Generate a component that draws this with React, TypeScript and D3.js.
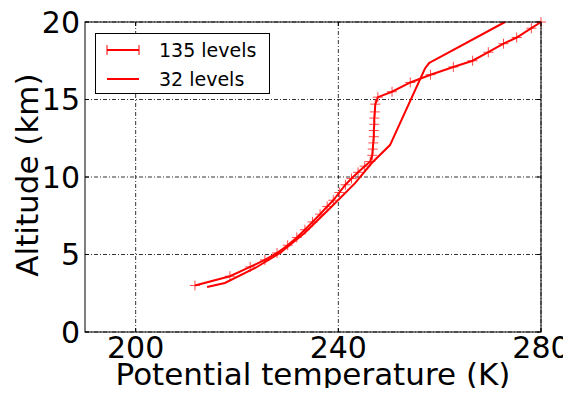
import React, { useEffect, useRef } from 'react';
import * as d3 from 'd3';

// 135 levels profile (with + markers)
const temp135 = [211.7, 218.6, 222.6, 225.5, 227.9, 230.0, 231.8, 233.4, 234.9, 236.4, 237.8, 239.0, 240.2, 241.4,
  242.6, 243.9, 245.2, 246.3, 246.7, 246.8, 246.9, 247.0, 247.0, 247.1, 247.1, 247.2, 247.3, 247.8, 250.6, 254.2,
  258.2, 262.7, 266.5, 269.6, 272.6, 275.2, 278.1, 280.0];
const alt135 = [3.0, 3.6, 4.2, 4.65, 5.1, 5.6, 6.1, 6.6, 7.1, 7.6, 8.1, 8.5, 9.0, 9.5,
  9.9, 10.3, 10.7, 11.0, 11.4, 11.8, 12.2, 12.6, 13.0, 13.4, 13.8, 14.2, 14.7, 15.15, 15.5, 16.1,
  16.6, 17.1, 17.5, 18.05, 18.6, 19.0, 19.6, 20.0];

// 32 levels profile
const temp32 = [214.1, 217.6, 223.6, 228.5, 233.4, 238.4, 243.3, 246.6, 250.2, 257.1, 257.9, 258.7, 272.9];
const alt32 = [2.9, 3.16, 4.13, 5.1, 6.4, 8.0, 9.6, 10.9, 12.06, 17.0, 17.35, 17.5, 20.0];

const xTicks = [200, 240, 280];
const yTicks = [0, 5, 10, 15, 20];
const seriesNames = ['135 levels', '32 levels'];

const W = 571;
const H = 396;
const margin = { left: 85, right: 30, top: 22, bottom: 64 };

export default function App() {
  const ref = useRef<SVGSVGElement>(null);

  useEffect(() => {
    const svg = d3.select(ref.current);
    svg.selectAll('*').remove();
    const font = 'DejaVu Sans, sans-serif';

    const x = d3.scaleLinear().domain([190, 280]).range([margin.left, W - margin.right]);
    const y = d3.scaleLinear().domain([0, 20]).range([H - margin.bottom, margin.top]);

    svg.append('rect').attr('width', W).attr('height', H).attr('fill', '#fff');

    // grid (dash-dot)
    const grid = svg.append('g').attr('stroke', '#000').attr('stroke-width', 0.8)
      .attr('stroke-dasharray', '4,2,1,2');
    grid.selectAll('.gx').data(xTicks).enter().append('line')
      .attr('x1', d => x(d)).attr('x2', d => x(d))
      .attr('y1', y(0)).attr('y2', y(20));
    grid.selectAll('.gy').data(yTicks).enter().append('line')
      .attr('x1', x(190)).attr('x2', x(280))
      .attr('y1', d => y(d)).attr('y2', d => y(d));

    // inside ticks
    const ticks = svg.append('g').attr('stroke', '#000').attr('stroke-width', 1);
    xTicks.forEach(t => {
      ticks.append('line').attr('x1', x(t)).attr('x2', x(t)).attr('y1', y(0)).attr('y2', y(0) - 4);
      ticks.append('line').attr('x1', x(t)).attr('x2', x(t)).attr('y1', y(20)).attr('y2', y(20) + 4);
    });
    yTicks.forEach(t => {
      ticks.append('line').attr('x1', x(190)).attr('x2', x(190) + 4).attr('y1', y(t)).attr('y2', y(t));
      ticks.append('line').attr('x1', x(280)).attr('x2', x(280) - 4).attr('y1', y(t)).attr('y2', y(t));
    });

    const line = d3.line<[number, number]>().x(d => x(d[0])).y(d => y(d[1]));
    const d135 = temp135.map((t, i) => [t, alt135[i]] as [number, number]);
    const d32 = temp32.map((t, i) => [t, alt32[i]] as [number, number]);

    const plot = svg.append('g');
    plot.append('path').attr('d', line(d135)).attr('fill', 'none').attr('stroke', '#ff0000').attr('stroke-width', 2);
    plot.append('path').attr('d', line(d32)).attr('fill', 'none').attr('stroke', '#ff0000').attr('stroke-width', 2);

    // + markers
    const m = 5;
    plot.selectAll('.mk').data(d135).enter().append('path')
      .attr('d', d => `M${x(d[0]) - m},${y(d[1])}H${x(d[0]) + m}M${x(d[0])},${y(d[1]) - m}V${y(d[1]) + m}`)
      .attr('stroke', '#ff0000').attr('stroke-width', 1).attr('opacity', 0.7);

    // frame
    svg.append('rect').attr('x', x(190)).attr('y', y(20))
      .attr('width', x(280) - x(190)).attr('height', y(0) - y(20))
      .attr('fill', 'none').attr('stroke', '#000').attr('stroke-width', 1);

    // tick labels
    svg.selectAll('.xl').data(xTicks).enter().append('text')
      .attr('x', d => x(d)).attr('y', 358).attr('text-anchor', 'middle')
      .style('font-family', font).style('font-size', '30px').text(d => d);
    svg.selectAll('.yl').data(yTicks).enter().append('text')
      .attr('x', 80).attr('y', d => y(d)).attr('dy', '0.36em').attr('text-anchor', 'end')
      .style('font-family', font).style('font-size', '30px').text(d => d);

    // axis titles
    svg.append('text').attr('x', (x(190) + x(280)) / 2).attr('y', 385).attr('text-anchor', 'middle')
      .style('font-family', font).style('font-size', '31px').text('Potential temperature (K)');
    svg.append('text').attr('transform', `translate(38,175) rotate(-90)`)
      .attr('text-anchor', 'middle')
      .style('font-family', font).style('font-size', '31px').text('Altitude (km)');

    // legend
    const lg = svg.append('g');
    lg.append('rect').attr('x', 95.5).attr('y', 33.5).attr('width', 174).attr('height', 60)
      .attr('fill', '#fff').attr('stroke', '#000').attr('stroke-width', 1);
    const rows = [50, 79];
    seriesNames.forEach((name, i) => {
      lg.append('line').attr('x1', 107).attr('x2', 139).attr('y1', rows[i]).attr('y2', rows[i])
        .attr('stroke', '#ff0000').attr('stroke-width', 2);
      if (i === 0) {
        [107, 139].forEach(px => {
          lg.append('line').attr('x1', px).attr('x2', px).attr('y1', rows[i] - m).attr('y2', rows[i] + m)
            .attr('stroke', '#ff0000').attr('stroke-width', 1);
        });
      }
      lg.append('text').attr('x', 159).attr('y', rows[i]).attr('dy', '0.36em')
        .style('font-family', font).style('font-size', '19px').text(name);
    });
  }, []);

  return <svg ref={ref} width={W} height={H} style={{ display: 'block', margin: -8 }} />;
}
